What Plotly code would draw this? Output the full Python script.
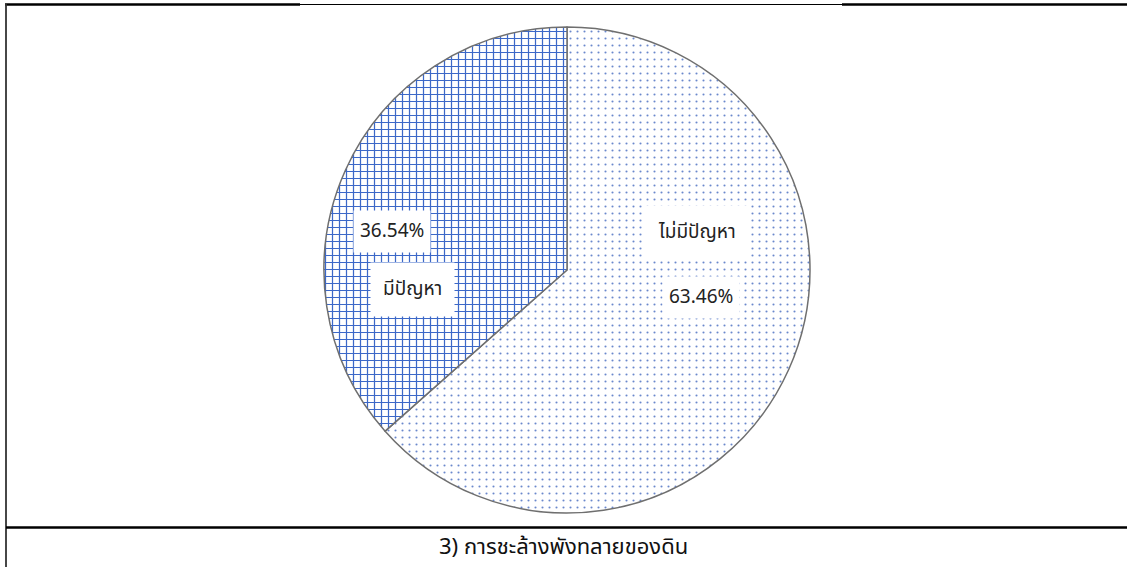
import plotly.graph_objects as go

labels = ["ไม่มีปัญหา", "มีปัญหา"]
values = [63.46, 36.54]
pct_text = ["63.46%", "36.54%"]
caption = "3) การชะล้างพังทลายของดิน"

W, H = 1127, 567
FONT = "Noto Sans Thai, Tahoma, Leelawadee UI, DejaVu Sans, sans-serif"

fig = go.Figure()
fig.add_trace(go.Pie(
    labels=labels,
    values=values,
    sort=False,
    direction="clockwise",
    rotation=0,
    textinfo="none",
    hoverinfo="label+percent",
    showlegend=False,
    marker=dict(
        colors=["white", "white"],
        line=dict(color="#6f6f6f", width=1.5),
        pattern=dict(
            shape=[".", "+"],
            fgcolor=["#6a88cc", "#3c68c8"],
            bgcolor=["white", "white"],
            size=[7, 7],
            solidity=[0.07, 0.32],
            fillmode="replace",
        ),
    ),
    domain=dict(x=[324 / W, 810 / W], y=[1 - 513 / H, 1 - 27 / H]),
))

def px(x):
    return x / W

def py(y):
    return 1 - y / H

ann_font = dict(family=FONT, size=19, color="#222222")
label_pos = {
    "ไม่มีปัญหา": (697, 232),
    "มีปัญหา": (412, 289),
}
pct_pos = {
    "63.46%": (701, 297),
    "36.54%": (392, 231),
}
for lab in labels:
    x, y = label_pos[lab]
    fig.add_annotation(x=px(x), y=py(y), xref="paper", yref="paper", text=lab,
                       xanchor="center", yanchor="middle",
                       showarrow=False, font=ann_font, bgcolor="white",
                       borderpad=12)
for t in pct_text:
    x, y = pct_pos[t]
    fig.add_annotation(x=px(x), y=py(y), xref="paper", yref="paper", text=t,
                       xanchor="center", yanchor="middle",
                       showarrow=False, font=ann_font, bgcolor="white",
                       borderpad=6)

fig.add_annotation(x=px(563), y=py(547), xref="paper", yref="paper", text=caption,
                   xanchor="center", yanchor="middle",
                   showarrow=False, font=dict(family=FONT, size=22, color="#111111"))

shapes = [
    dict(type="line", x0=px(5), x1=px(300), y0=py(4.5), y1=py(4.5), line=dict(color="black", width=2.5)),
    dict(type="line", x0=px(300), x1=px(842), y0=py(4.5), y1=py(4.5), line=dict(color="black", width=1.2)),
    dict(type="line", x0=px(842), x1=px(1127), y0=py(4.5), y1=py(4.5), line=dict(color="black", width=2.5)),
    dict(type="line", x0=px(6), x1=px(6), y0=py(4), y1=py(567), line=dict(color="#333333", width=1.8)),
    dict(type="line", x0=px(6), x1=px(1127), y0=py(527.5), y1=py(527.5), line=dict(color="black", width=2.5)),
]
fig.update_layout(
    width=W, height=H,
    margin=dict(l=0, r=0, t=0, b=0),
    paper_bgcolor="white", plot_bgcolor="white",
    shapes=shapes,
)

fig.write_html(
    "out.html",
    config={"displayModeBar": False},
    post_script="document.body.style.margin='0';document.body.style.overflow='hidden';",
)
